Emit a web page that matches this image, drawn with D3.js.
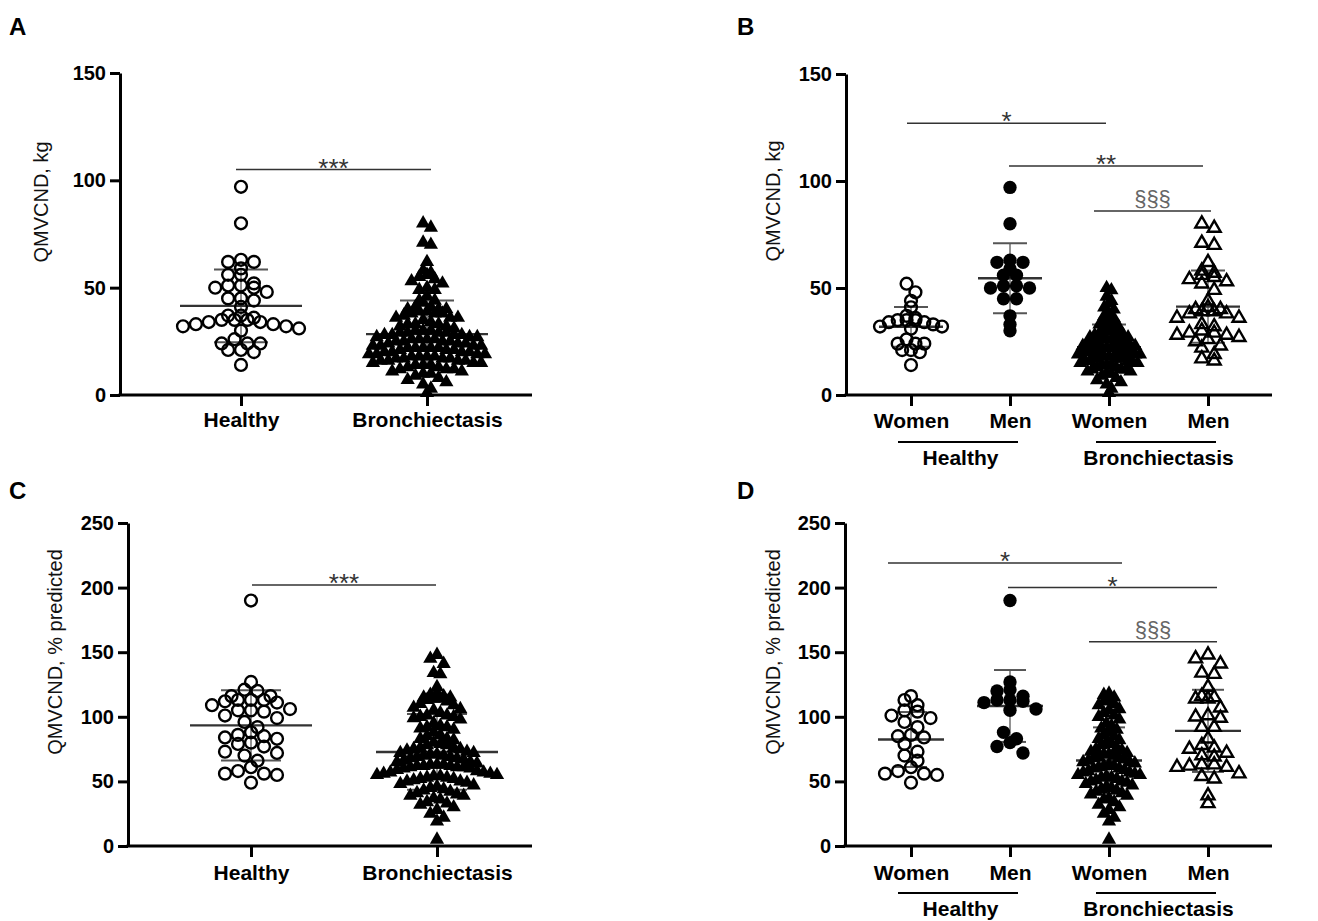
<!DOCTYPE html>
<html>
<head>
<meta charset="utf-8">
<script src="https://cdn.jsdelivr.net/npm/d3@7"></script>
<style>
body { margin: 0; background: #fff; }
svg { display: block; }
text { font-family: "Liberation Sans", Arial, sans-serif; }
</style>
</head>
<body>
<svg id="fig" width="1318" height="921"></svg>
<script>
var kgHealthyWomen = [52, 48, 44, 41, 37, 36, 35, 35, 35, 34, 34, 33, 32, 32, 31, 26, 24, 24, 24, 21, 20, 21, 14];
var kgHealthyMen = [97, 80, 63, 62, 62, 59, 56, 56, 51, 51, 50, 50, 45, 45, 37, 33, 30];
var kgBronchWomen = [50, 49, 46, 44, 43, 41, 40, 38, 37, 36,
	35, 34, 33, 33, 32, 31, 30, 30, 29, 29,
	28, 28, 27, 27, 26, 26, 26, 25, 25, 25,
	24, 24, 24, 23, 23, 23, 22, 22, 22, 22,
	21, 21, 21, 20, 20, 20, 20, 19, 19, 19,
	18, 18, 18, 18, 17, 17, 17, 16, 16, 16,
	15, 15, 15, 14, 14, 14, 13, 13, 12, 12,
	12, 11, 11, 10, 10, 9, 8, 7, 6, 5, 3, 1];
var kgBronchMen = [80, 78, 71, 70, 62, 58, 57, 56, 55, 54, 53, 52, 49, 44, 41, 40, 40, 39, 39,
	38, 38, 36, 36, 33, 32, 30, 29, 29, 28, 28, 27, 26, 25, 23, 22, 19, 17, 16];

var predHealthyWomen = [116, 113, 109, 105, 104, 101, 99, 96, 92, 86, 85, 84, 79, 73, 70, 66, 61, 58, 56, 56, 55, 49];
var predHealthyMen = [190, 127, 121, 120, 116, 113, 113, 112, 111, 106, 105, 88, 83, 80, 77, 72];
var predBronchWomen = [118, 117, 115, 113, 112, 110, 109, 106, 105, 103,
	101, 100, 98, 95, 93, 91, 90, 88, 86, 85,
	83, 82, 80, 79, 78, 76, 75, 74, 73, 72,
	71, 71, 70, 69, 68, 68, 67, 66, 65, 65,
	64, 63, 62, 62, 61, 60, 60, 59, 58, 57,
	57, 56, 55, 55, 54, 53, 53, 52, 51, 50,
	50, 49, 48, 47, 46, 45, 44, 43, 42, 41,
	40, 39, 37, 36, 34, 32, 30, 28, 25, 22, 19, 5];
var predBronchMen = [148, 145, 141, 134, 133, 123, 116, 115, 114, 114, 107, 101, 100, 99, 92, 92,
	83, 78, 76, 75, 72, 70, 69, 63, 63, 62, 61, 61, 56, 54, 52, 39, 33];

var kgTicks = [0, 50, 100, 150];
var predTicks = [0, 50, 100, 150, 200, 250];
var groupNames = ["Healthy", "Bronchiectasis"];
var sexNames = ["Women", "Men", "Women", "Men"];

var sigA = [{from: 0, to: 1, at: 105, text: "***", p0: -5, p1: 4}];
var sigB = [{from: 0, to: 2, at: 127, text: "*", p0: -4, p1: -3},
	{from: 1, to: 3, at: 107, text: "**", p0: -1, p1: -5},
	{from: 2, to: 3, at: 86, text: "§§§", p0: -15, p1: 3}];
var sigC = [{from: 0, to: 1, at: 202, text: "***", p0: 1, p1: -1}];
var sigD = [{from: 0, to: 2, at: 219, text: "*", p0: -23, p1: 13},
	{from: 1, to: 3, at: 200, text: "*", p0: -2, p1: 9},
	{from: 2, to: 3, at: 158, text: "§§§", p0: -20, p1: 9}];

var openCircle = {shape: "circle", filled: false};
var filledCircle = {shape: "circle", filled: true};
var openTri = {shape: "triangle", filled: false};
var filledTri = {shape: "triangle", filled: true};

var panels = [
	{letter: "A", lx: 9, ly: 35, title: "QMVCND, kg", tx: 43, ty: 202, ticks: kgTicks,
	 x0: 120, xEnd: 532, y0: 395, yTop: 73, cats: [241, 427], meanHalf: 61, capHalf: 27, swarmHalf: 58, bin: 9,
	 labels: groupNames, groups: [kgHealthyWomen.concat(kgHealthyMen), kgBronchWomen.concat(kgBronchMen)],
	 marks: [openCircle, filledTri], sig: sigA, labelY: 32},
	{letter: "B", lx: 737, ly: 35, title: "QMVCND, kg", tx: 775, ty: 201, ticks: kgTicks,
	 x0: 846, xEnd: 1272, y0: 395, yTop: 74, cats: [911, 1208], meanHalf: 32, capHalf: 17, swarmHalf: 31, bin: 9,
	 labels: sexNames, groups: [kgHealthyWomen, kgHealthyMen, kgBronchWomen, kgBronchMen],
	 marks: [openCircle, filledCircle, filledTri, openTri], sig: sigB, labelY: 33, split: true},
	{letter: "C", lx: 9, ly: 499, title: "QMVCND, % predicted", tx: 57, ty: 652, ticks: predTicks,
	 x0: 128, xEnd: 532, y0: 846, yTop: 523, cats: [251, 437], meanHalf: 61, capHalf: 30, swarmHalf: 60, bin: 11,
	 labels: groupNames, groups: [predHealthyWomen.concat(predHealthyMen), predBronchWomen.concat(predBronchMen)],
	 marks: [openCircle, filledTri], sig: sigC, labelY: 34},
	{letter: "D", lx: 737, ly: 499, title: "QMVCND, % predicted", tx: 775, ty: 652, ticks: predTicks,
	 x0: 845, xEnd: 1272, y0: 846, yTop: 523, cats: [911, 1208], meanHalf: 33, capHalf: 16, swarmHalf: 31, bin: 11,
	 labels: sexNames, groups: [predHealthyWomen, predHealthyMen, predBronchWomen, predBronchMen],
	 marks: [openCircle, filledCircle, filledTri, openTri], sig: sigD, labelY: 34, split: true}
];

var svg = d3.select("#fig");

// GraphPad-like scatter: bin by row, spread each row, squeeze to column width
function swarm(vals, y, spacing, binPx, maxHalf) {
	var pts = vals.map(function(v){ return {v: v, py: y(v), off: 0}; });
	var rows = d3.groups(pts, function(p){ return Math.round(p.py / binPx); });
	rows.forEach(function(r){
		var arr = r[1].slice().sort(function(a, b){ return b.v - a.v; });
		var n = arr.length;
		var slots = d3.range(n).map(function(i){ return (i - (n - 1) / 2) * spacing; })
			.sort(function(a, b){ return Math.abs(a) - Math.abs(b) || a - b; });
		arr.forEach(function(p, i){ p.off = slots[i]; });
	});
	var m = d3.max(pts, function(p){ return Math.abs(p.off); });
	var k = m > maxHalf ? maxHalf / m : 1;
	pts.forEach(function(p){ p.off *= k; });
	return pts;
}

var triPath = d3.symbol().type(d3.symbolTriangle).size(88)();
var triOpen = d3.symbol().type(d3.symbolTriangle).size(72)();

panels.forEach(function(p){
	var g = svg.append("g");
	var y = d3.scaleLinear().domain([0, d3.max(p.ticks)]).range([p.y0, p.yTop]);
	var x = d3.scalePoint().domain(d3.range(p.groups.length)).range(p.cats);

	// panel letter
	g.append("text").attr("x", p.lx).attr("y", p.ly)
		.attr("font-size", 24).attr("font-weight", "bold").text(p.letter);

	// y title
	g.append("text")
		.attr("transform", "translate(" + p.tx + "," + p.ty + ") rotate(-90)")
		.attr("text-anchor", "middle").attr("dominant-baseline", "middle")
		.attr("font-size", 20).attr("fill", "#111").text(p.title);

	// y axis
	var ya = g.append("g").attr("transform", "translate(" + p.x0 + ",0)")
		.call(d3.axisLeft(y).tickValues(p.ticks).tickSize(10).tickSizeOuter(0).tickPadding(4));
	ya.select(".domain").attr("stroke", "#000").attr("stroke-width", 3);
	ya.selectAll(".tick line").attr("stroke", "#000").attr("stroke-width", 3);
	ya.selectAll(".tick text").attr("font-size", 20).attr("font-weight", "bold")
		.attr("font-family", "Liberation Sans, Arial, sans-serif").attr("fill", "#000");

	// x axis
	var xa = g.append("g").attr("transform", "translate(0," + p.y0 + ")")
		.call(d3.axisBottom(x).tickSize(11).tickSizeOuter(0).tickFormat(function(i){ return p.labels[i]; }));
	xa.select(".domain").remove();
	xa.selectAll(".tick line").attr("stroke", "#000").attr("stroke-width", 3);
	xa.selectAll(".tick text").attr("y", p.labelY).attr("dy", null)
		.attr("font-size", 21).attr("font-weight", "bold")
		.attr("font-family", "Liberation Sans, Arial, sans-serif").attr("fill", "#000");
	g.append("line").attr("x1", p.x0 - 1.5).attr("x2", p.xEnd)
		.attr("y1", p.y0).attr("y2", p.y0).attr("stroke", "#000").attr("stroke-width", 3);

	// Healthy / Bronchiectasis brackets under sex labels
	if (p.split) {
		[[0, 1], [2, 3]].forEach(function(pair, gi){
			var a = x(pair[0]) - 13, b = x(pair[1]) + 8;
			g.append("line").attr("x1", a).attr("x2", b)
				.attr("y1", p.y0 + 47).attr("y2", p.y0 + 47)
				.attr("stroke", "#000").attr("stroke-width", 2);
			g.append("text").attr("x", (x(pair[0]) + x(pair[1])) / 2).attr("y", p.y0 + 70)
				.attr("text-anchor", "middle").attr("font-size", 21).attr("font-weight", "bold")
				.text(groupNames[gi]);
		});
	}

	// mean +/- SD
	p.groups.forEach(function(vals, i){
		var cx = x(i), m = d3.mean(vals), sd = d3.deviation(vals);
		var hi = y(m + sd), lo = y(Math.max(0, m - sd));
		g.append("line").attr("x1", cx).attr("x2", cx).attr("y1", hi).attr("y2", lo)
			.attr("stroke", "#777").attr("stroke-width", 1.6);
		[hi, lo].forEach(function(yy){
			g.append("line").attr("x1", cx - p.capHalf).attr("x2", cx + p.capHalf)
				.attr("y1", yy).attr("y2", yy).attr("stroke", "#555").attr("stroke-width", 2);
		});
		g.append("line").attr("x1", cx - p.meanHalf).attr("x2", cx + p.meanHalf)
			.attr("y1", y(m)).attr("y2", y(m)).attr("stroke", "#333").attr("stroke-width", 2.4);
	});

	// points
	p.groups.forEach(function(vals, i){
		var mk = p.marks[i];
		var pts = swarm(vals, y, 13, p.bin, p.swarmHalf);
		var sel = g.append("g").selectAll("path").data(pts).join("path")
			.attr("transform", function(d){ return "translate(" + (x(i) + d.off) + "," + d.py + ")"; });
		if (mk.shape === "circle") {
			sel.attr("d", d3.symbol().type(d3.symbolCircle).size(mk.filled ? 140 : 110)());
		} else {
			sel.attr("d", mk.filled ? triPath : triOpen);
		}
		if (mk.filled) sel.attr("fill", "#000").attr("stroke", "none");
		else sel.attr("fill", "none").attr("stroke", "#000").attr("stroke-width", 2.4);
	});

	// significance bars
	p.sig.forEach(function(s){
		var a = x(s.from) + s.p0, b = x(s.to) + s.p1, yy = y(s.at);
		g.append("line").attr("x1", a).attr("x2", b).attr("y1", yy).attr("y2", yy)
			.attr("stroke", "#333").attr("stroke-width", 1.5);
		var t = g.append("text").attr("x", (a + b) / 2).attr("text-anchor", "middle").text(s.text);
		if (s.text.charAt(0) === "§") t.attr("y", yy - 5).attr("font-size", 22).attr("fill", "#666");
		else t.attr("y", yy + 7).attr("font-size", 26).attr("fill", "#333");
	});
});
</script>
</body>
</html>
